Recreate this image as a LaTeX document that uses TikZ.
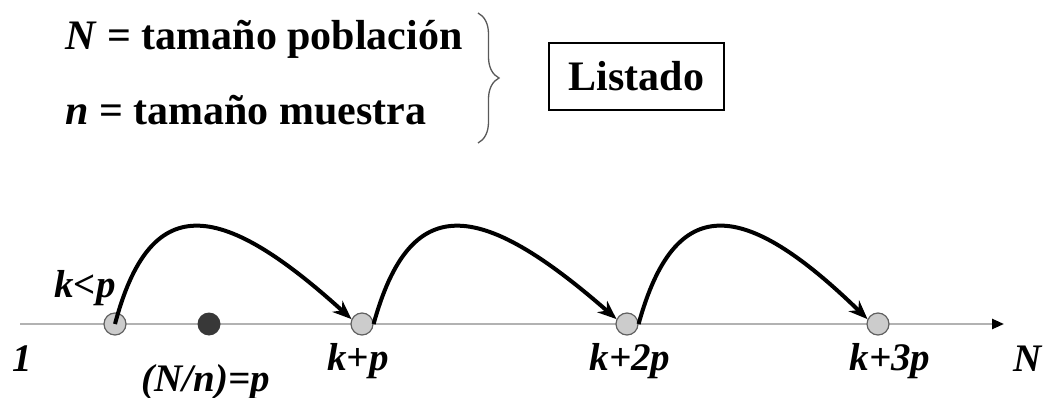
\documentclass[tikz,border=0pt]{standalone}
\usepackage{fontspec}
\setmainfont{Liberation Serif}
\usetikzlibrary{arrows.meta,decorations.pathreplacing}
\begin{document}
\begin{tikzpicture}[x=1pt,y=-1pt,
  big/.style={font=\fontsize{42}{46}\selectfont\bfseries, inner sep=0pt},
  lab/.style={font=\fontsize{39}{43}\selectfont\bfseries\itshape, inner sep=0pt, anchor=base},
  pt/.style={circle, draw=gray!75!black, fill=gray!40, line width=1.2pt, minimum size=22pt, inner sep=0pt},
  dot/.style={circle, fill=black!78, minimum size=23pt, inner sep=0pt},
  jump/.style={line width=4pt, -{Stealth[length=19pt,width=15pt]}}]
\useasboundingbox (0,0) rectangle (1060,398);
% top texts
\node[big, anchor=base west] (t1) at (65,50) {\textit{N} = tamaño población};
\node[big, anchor=base west] (t2) at (65,125) {\textit{n} = tamaño muestra};
\draw[gray!70!black, line width=1.3pt, decorate, decoration={brace, amplitude=21pt}] (478,13) -- (478,143);
\node[big, draw, line width=2pt, minimum width=175pt, minimum height=67pt] (list) at (636.5,76.5) {Listado};
% axis
\coordinate (a0) at (20,324);
\coordinate (a1) at (1004,324);
\draw[gray!60, line width=2.5pt, -{Triangle[length=12pt,width=10pt,black]}] (a0) -- (a1);
% points
\node[pt] (k) at (115,324) {};
\node[dot] (m) at (209,324) {};
\node[pt] (kp) at (362,324) {};
\node[pt] (k2p) at (627,324) {};
\node[pt] (k3p) at (878,324) {};
% jumps
\draw[jump] (k.center) .. controls (150,192) and (218,198) .. (kp.155);
\draw[jump] (kp.east) .. controls (410,192) and (478,198) .. (k2p.155);
\draw[jump] (k2p.east) .. controls (675,192) and (743,198) .. (k3p.155);
% labels
\node[lab] (l1) at (22,371) {1};
\node[lab] (lk) at (85,297) {k<p};
\node[lab] (lm) at (206,391) {(N/n)=p};
\node[lab] (lkp) at (358,370) {k+p};
\node[lab] (lk2p) at (630,370) {k+2p};
\node[lab] (lk3p) at (890,370) {k+3p};
\node[lab] (lN) at (1028,371) {N};
\end{tikzpicture}
\end{document}
